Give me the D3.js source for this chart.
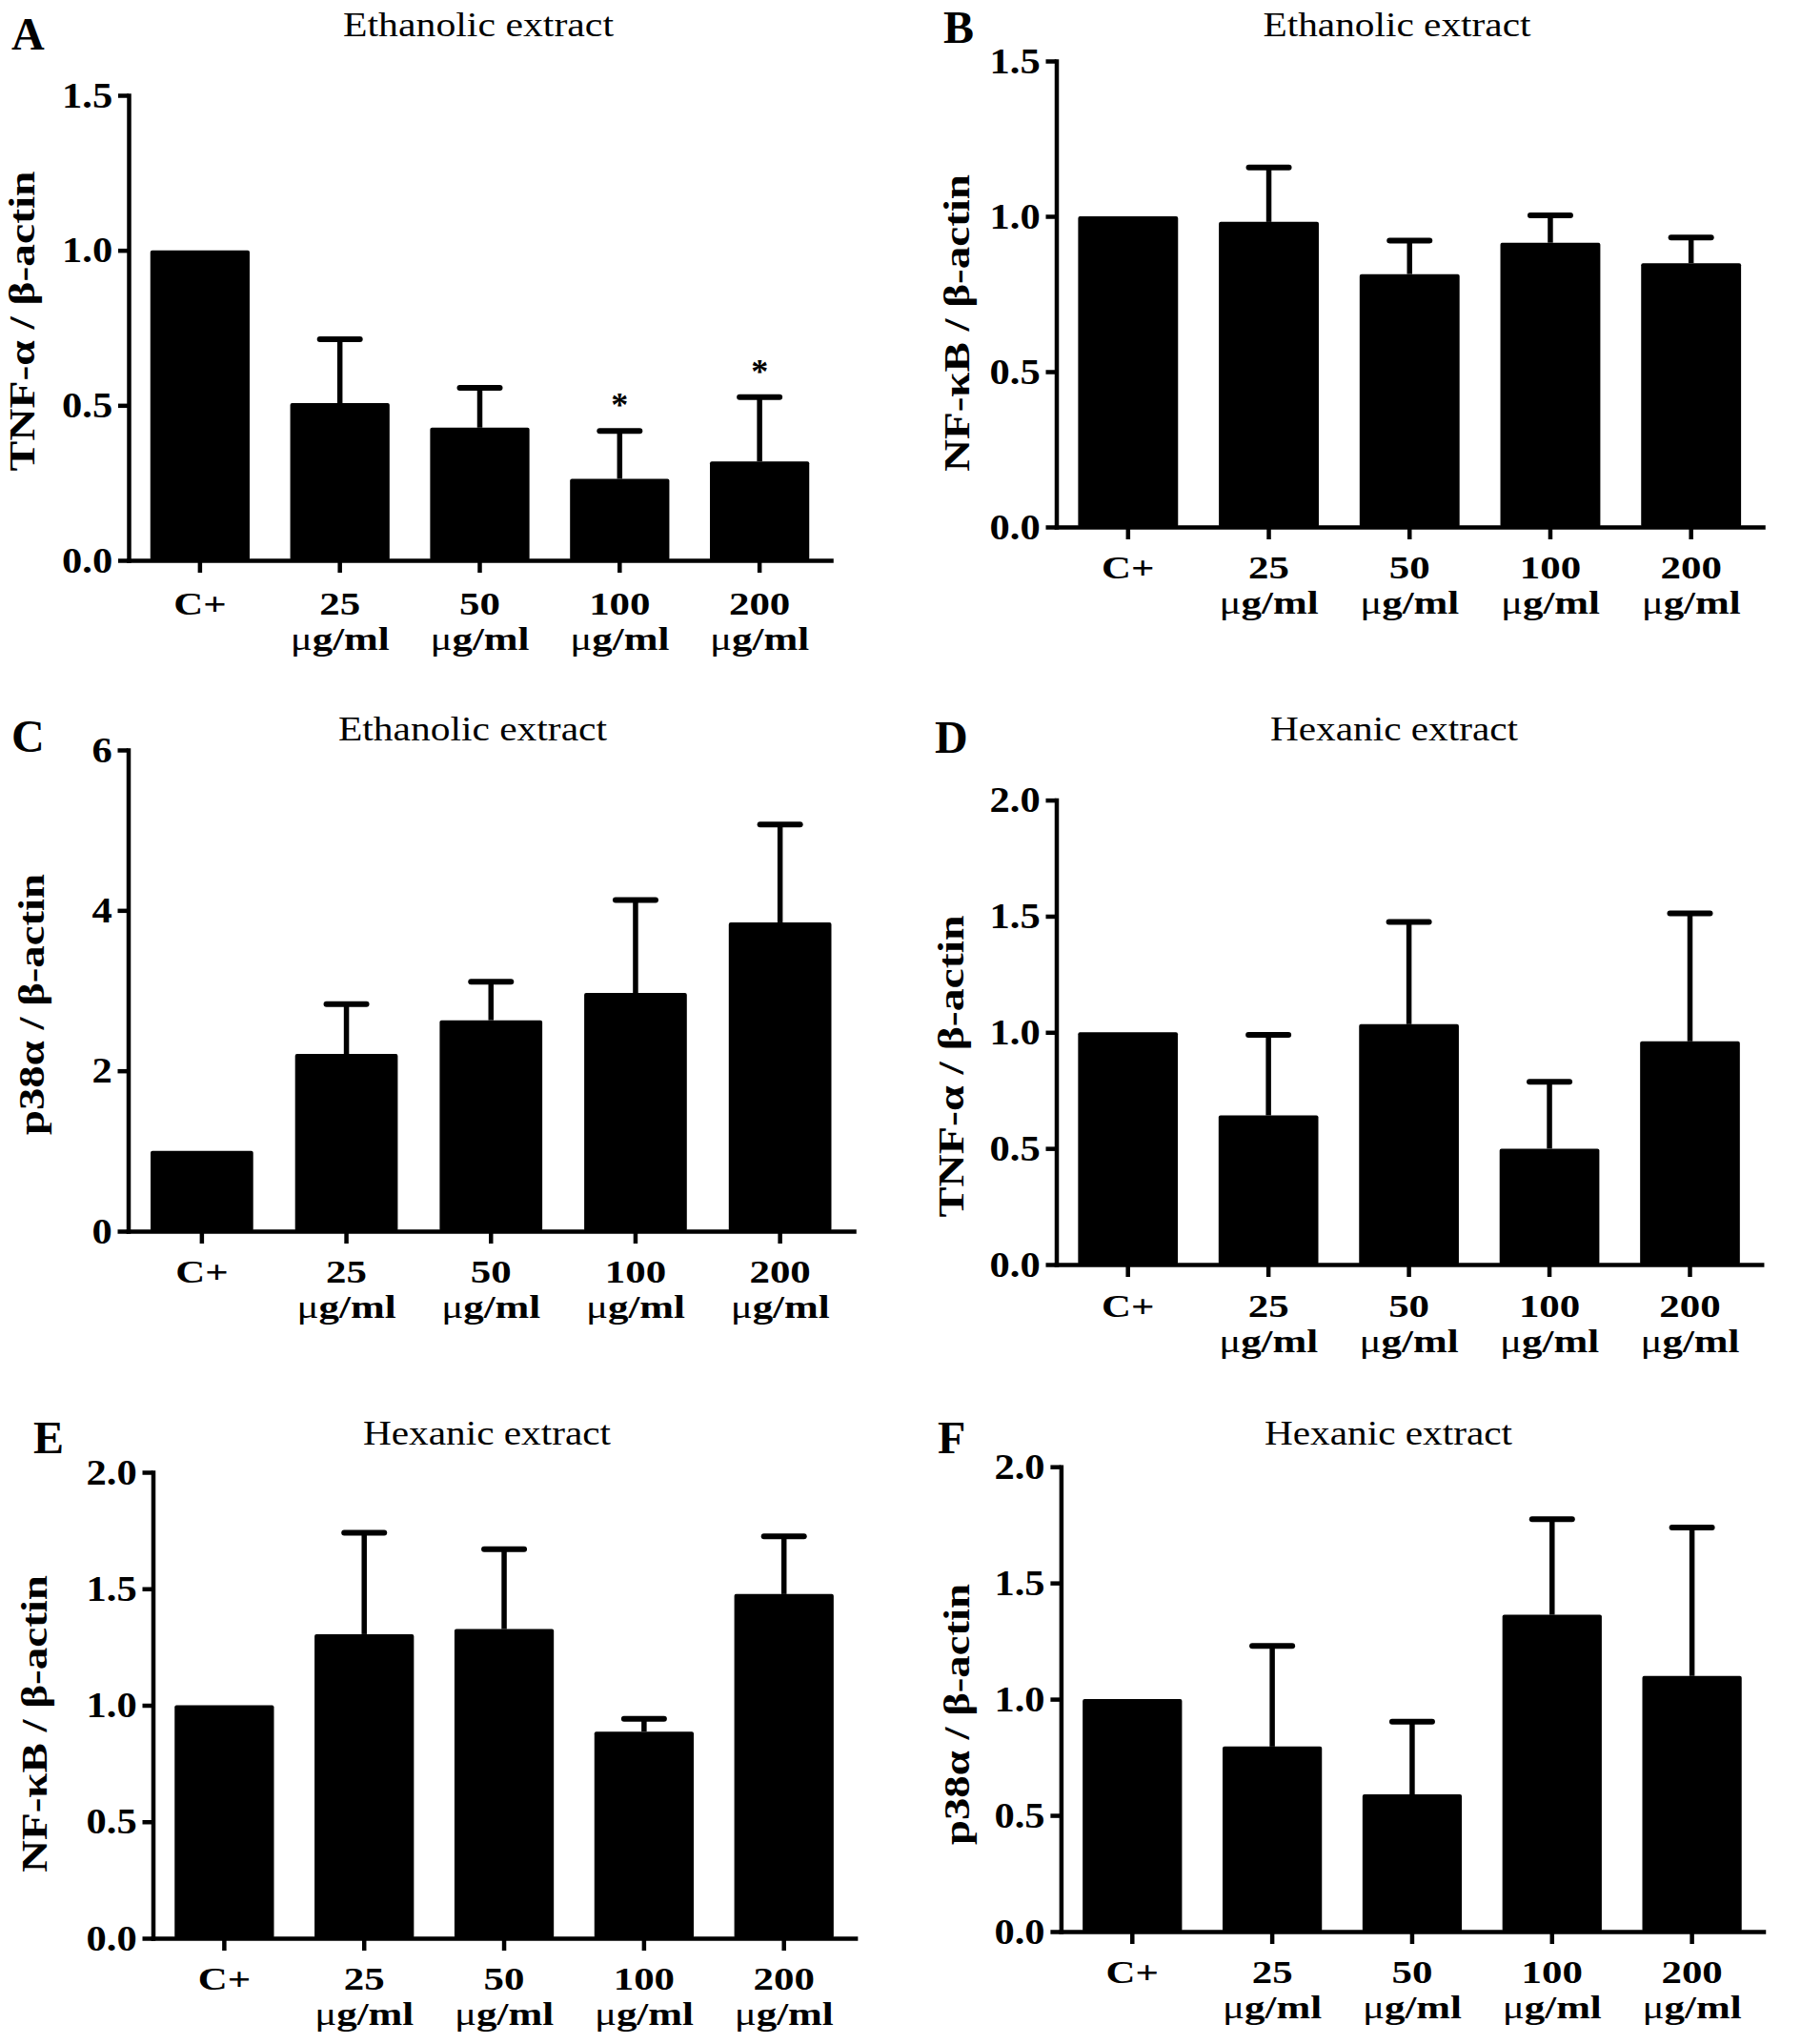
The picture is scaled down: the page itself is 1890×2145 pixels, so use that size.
<!DOCTYPE html>
<html>
<head>
<meta charset="utf-8">
<script src="https://cdn.jsdelivr.net/npm/d3@7"></script>
<style>
  html, body { margin: 0; padding: 0; background: #fff; }
  svg { display: block; }
  text { font-family: "Liberation Serif", "Times New Roman", serif; fill: #000; }
</style>
</head>
<body>
<svg id="chart" width="1890" height="2145"></svg>
<script>
// ---------------- DATA ----------------
const categories = ["C+", "25", "50", "100", "200"];
const unitLabel = "g/ml";           // preceded by the micro sign
const microSign = "\u03bc";

const panelLetters = ["A", "B", "C", "D", "E", "F"];
const titles = ["Ethanolic extract", "Ethanolic extract", "Ethanolic extract",
                "Hexanic extract", "Hexanic extract", "Hexanic extract"];
const yLabels = ["TNF-\u03b1 / \u03b2-actin", "NF-\u03baB  / \u03b2-actin", "p38\u03b1 / \u03b2-actin",
                 "TNF-\u03b1 / \u03b2-actin", "NF-\u03baB  / \u03b2-actin", "p38\u03b1 / \u03b2-actin"];

// bar means (relative to beta-actin) and upper error (SEM)
const valuesA = [1.00, 0.507, 0.428, 0.263, 0.319];
const errorsA = [0, 0.206, 0.128, 0.154, 0.207];
const sigA    = ["", "", "", "*", "*"];

const valuesB = [1.00, 0.982, 0.814, 0.915, 0.849];
const errorsB = [0, 0.175, 0.108, 0.088, 0.083];

const valuesC = [1.00, 2.21, 2.63, 2.97, 3.85];
const errorsC = [0, 0.62, 0.48, 1.16, 1.22];

const valuesD = [1.00, 0.642, 1.035, 0.499, 0.961];
const errorsD = [0, 0.347, 0.440, 0.288, 0.551];

const valuesE = [1.00, 1.305, 1.327, 0.887, 1.477];
const errorsE = [0, 0.435, 0.343, 0.055, 0.248];

const valuesF = [1.00, 0.796, 0.590, 1.363, 1.100];
const errorsF = [0, 0.433, 0.313, 0.411, 0.638];

const ticksTNFeth = [0, 0.5, 1.0, 1.5];
const ticksP38eth = [0, 2, 4, 6];
const ticksHex    = [0, 0.5, 1.0, 1.5, 2.0];
const noSig = ["", "", "", "", ""];

// ---------------- LAYOUT (positions only) ----------------
const panels = [
  { values: valuesA, errors: errorsA, sig: sigA,  ticks: ticksTNFeth, fmt: ".1f",
    axisX: 135,    xEnd: 872,    yTop: 100,   yBase: 588,  lab1: 57, lab2: 37,
    letterX: 12,  letterY: 52,  titleX: 502,  titleY: 38,   titleLen: 284,
    labelX: 36,   labelY: 337,  labelLen: 315 },
  { values: valuesB, errors: errorsB, sig: noSig, ticks: ticksTNFeth, fmt: ".1f",
    axisX: 1108.5, xEnd: 1850,   yTop: 64,    yBase: 553,  lab1: 54, lab2: 37,
    letterX: 990, letterY: 45,  titleX: 1466, titleY: 38,   titleLen: 281,
    labelX: 1017, labelY: 339,  labelLen: 312 },
  { values: valuesC, errors: errorsC, sig: noSig, ticks: ticksP38eth, fmt: "d",
    axisX: 134.5,  xEnd: 896,    yTop: 787,   yBase: 1292, lab1: 54, lab2: 37,
    letterX: 12,  letterY: 789, titleX: 496,  titleY: 777,  titleLen: 282,
    labelX: 46,   labelY: 1054, labelLen: 274 },
  { values: valuesD, errors: errorsD, sig: noSig, ticks: ticksHex, fmt: ".1f",
    axisX: 1108.5, xEnd: 1848.7, yTop: 839.6, yBase: 1327, lab1: 55, lab2: 37,
    letterX: 981, letterY: 790, titleX: 1463, titleY: 777,  titleLen: 260,
    labelX: 1011, labelY: 1119, labelLen: 317 },
  { values: valuesE, errors: errorsE, sig: noSig, ticks: ticksHex, fmt: ".1f",
    axisX: 160.5,  xEnd: 897.6,  yTop: 1545, yBase: 2034,  lab1: 54, lab2: 37,
    letterX: 35,  letterY: 1525, titleX: 511, titleY: 1516, titleLen: 260,
    labelX: 49,   labelY: 1809, labelLen: 312 },
  { values: valuesF, errors: errorsF, sig: noSig, ticks: ticksHex, fmt: ".1f",
    axisX: 1113.4, xEnd: 1850.5, yTop: 1539.2, yBase: 2027, lab1: 54, lab2: 37,
    letterX: 984, letterY: 1525, titleX: 1457, titleY: 1516, titleLen: 260,
    labelX: 1017, labelY: 1799, labelLen: 274 }
];

const svg = d3.select("#chart");
svg.append("rect").attr("width", 1890).attr("height", 2145).attr("fill", "#fff");

const AXIS_W = 4.5;

panels.forEach((p, i) => {
  const g = svg.append("g");
  const yMax = d3.max(p.ticks);
  const y = d3.scaleLinear().domain([0, yMax]).range([p.yBase, p.yTop]);
  const x = d3.scaleBand().domain(categories).range([p.axisX, p.xEnd])
              .paddingInner(0.29).paddingOuter(0.155);

  const data = categories.map((c, j) => ({ c, v: p.values[j], e: p.errors[j], s: p.sig[j] }));

  // bars
  g.selectAll("rect.bar").data(data).join("rect")
    .attr("class", "bar")
    .attr("x", d => x(d.c))
    .attr("width", x.bandwidth())
    .attr("y", d => y(d.v))
    .attr("height", d => y(0) - y(d.v))
    .attr("rx", 2)
    .attr("fill", "#000");

  // error bars (upper only)
  const eb = data.filter(d => d.e > 0);
  g.selectAll("line.stem").data(eb).join("line")
    .attr("class", "stem")
    .attr("x1", d => x(d.c) + x.bandwidth() / 2)
    .attr("x2", d => x(d.c) + x.bandwidth() / 2)
    .attr("y1", d => y(d.v))
    .attr("y2", d => y(d.v + d.e))
    .attr("stroke", "#000").attr("stroke-width", 5.5);
  g.selectAll("line.cap").data(eb).join("line")
    .attr("class", "cap")
    .attr("x1", d => x(d.c) + x.bandwidth() / 2 - 21)
    .attr("x2", d => x(d.c) + x.bandwidth() / 2 + 21)
    .attr("y1", d => y(d.v + d.e))
    .attr("y2", d => y(d.v + d.e))
    .attr("stroke", "#000").attr("stroke-width", 6).attr("stroke-linecap", "round");

  // significance asterisks
  g.selectAll("text.sig").data(data.filter(d => d.s)).join("text")
    .attr("class", "sig")
    .attr("x", d => x(d.c) + x.bandwidth() / 2)
    .attr("y", d => y(d.v + d.e) - 15)
    .attr("text-anchor", "middle")
    .attr("font-size", 36)
    .attr("font-weight", "bold")
    .text(d => d.s);

  // y axis
  const yAxis = g.append("g")
    .attr("transform", `translate(${p.axisX},0)`)
    .call(d3.axisLeft(y).tickValues(p.ticks).tickFormat(d3.format(p.fmt))
            .tickSize(11).tickPadding(6).tickSizeOuter(0));
  yAxis.select(".domain").attr("stroke-width", AXIS_W).attr("stroke-linecap", "square");
  yAxis.selectAll(".tick line").attr("stroke-width", AXIS_W);
  yAxis.selectAll(".tick text")
    .attr("font-family", "Liberation Serif, Times New Roman, serif")
    .attr("font-size", 38).attr("font-weight", "bold").attr("fill", "#000")
    .attr("x", -15)
    .attr("transform", "scale(1.12,1)");

  // x axis
  const xAxis = g.append("g")
    .attr("transform", `translate(0,${p.yBase})`)
    .call(d3.axisBottom(x).tickSize(13).tickSizeOuter(0));
  xAxis.select(".domain").attr("stroke-width", AXIS_W).attr("stroke-linecap", "square");
  xAxis.selectAll(".tick line").attr("stroke-width", AXIS_W);
  xAxis.selectAll(".tick text").remove();
  xAxis.selectAll(".tick").each(function (d, j) {
    const t = d3.select(this).append("text")
      .attr("y", p.lab1).attr("text-anchor", "middle")
      .attr("transform", "scale(1.3,1)")
      .attr("font-family", "Liberation Serif, Times New Roman, serif")
      .attr("font-size", 33).attr("font-weight", "bold").attr("fill", "#000");
    t.append("tspan").attr("x", 0).text(d);
    if (j > 0) {
      const l2 = t.append("tspan").attr("x", 0).attr("dy", p.lab2);
      l2.append("tspan").attr("font-weight", "normal").text(microSign);
      l2.append("tspan").text(unitLabel);
    }
  });

  // panel letter
  g.append("text")
    .attr("x", p.letterX).attr("y", p.letterY)
    .attr("font-size", 48).attr("font-weight", "bold")
    .text(panelLetters[i]);

  // title
  g.append("text")
    .attr("x", p.titleX).attr("y", p.titleY)
    .attr("text-anchor", "middle")
    .attr("font-size", 35)
    .attr("textLength", p.titleLen).attr("lengthAdjust", "spacingAndGlyphs")
    .text(titles[i]);

  // y label
  g.append("text")
    .attr("transform", `translate(${p.labelX},${p.labelY}) rotate(-90)`)
    .attr("text-anchor", "middle")
    .attr("font-size", 38).attr("font-weight", "bold")
    .attr("textLength", p.labelLen).attr("lengthAdjust", "spacingAndGlyphs")
    .text(yLabels[i]);
});
</script>
</body>
</html>
